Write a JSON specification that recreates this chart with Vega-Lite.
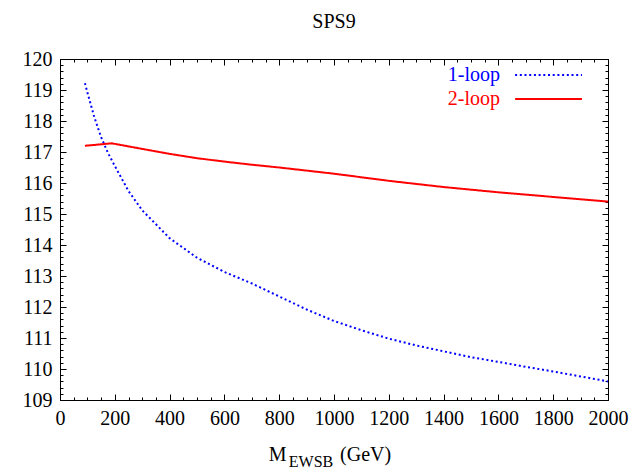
{
  "$schema": "https://vega.github.io/schema/vega-lite/v6.json",
  "width": 548,
  "height": 341,
  "autosize": {"type": "none"},
  "padding": {"left": 60, "top": 59, "right": 31, "bottom": 69},
  "background": "white",
  "title": {"text": "SPS9", "fontSize": 20, "font": "Liberation Serif", "fontWeight": "normal", "color": "black", "anchor": "middle", "offset": 17},
  "config": {
    "view": {"stroke": "black", "strokeWidth": 1},
    "font": "Liberation Serif",
    "axis": {"grid": false, "domainColor": "black", "tickColor": "black", "tickWidth": 1, "labelColor": "black", "labelFont": "Liberation Serif", "labelFontSize": 20, "labelFlush": false, "labelOverlap": false, "labelBound": false}
  },
  "datasets": {
    "curves": [
      {"M": 91, "mh": 119.22, "loop": "1-loop"},
      {"M": 100, "mh": 118.92, "loop": "1-loop"},
      {"M": 125, "mh": 118.13, "loop": "1-loop"},
      {"M": 150, "mh": 117.48, "loop": "1-loop"},
      {"M": 175, "mh": 116.97, "loop": "1-loop"},
      {"M": 200, "mh": 116.55, "loop": "1-loop"},
      {"M": 250, "mh": 115.74, "loop": "1-loop"},
      {"M": 300, "mh": 115.12, "loop": "1-loop"},
      {"M": 400, "mh": 114.22, "loop": "1-loop"},
      {"M": 500, "mh": 113.59, "loop": "1-loop"},
      {"M": 600, "mh": 113.13, "loop": "1-loop"},
      {"M": 700, "mh": 112.76, "loop": "1-loop"},
      {"M": 800, "mh": 112.34, "loop": "1-loop"},
      {"M": 900, "mh": 111.92, "loop": "1-loop"},
      {"M": 1000, "mh": 111.55, "loop": "1-loop"},
      {"M": 1100, "mh": 111.25, "loop": "1-loop"},
      {"M": 1200, "mh": 110.98, "loop": "1-loop"},
      {"M": 1300, "mh": 110.76, "loop": "1-loop"},
      {"M": 1400, "mh": 110.57, "loop": "1-loop"},
      {"M": 1500, "mh": 110.38, "loop": "1-loop"},
      {"M": 1600, "mh": 110.23, "loop": "1-loop"},
      {"M": 1700, "mh": 110.07, "loop": "1-loop"},
      {"M": 1800, "mh": 109.92, "loop": "1-loop"},
      {"M": 1900, "mh": 109.76, "loop": "1-loop"},
      {"M": 2000, "mh": 109.6, "loop": "1-loop"},
      {"M": 91, "mh": 117.2, "loop": "2-loop"},
      {"M": 189, "mh": 117.28, "loop": "2-loop"},
      {"M": 300, "mh": 117.1, "loop": "2-loop"},
      {"M": 400, "mh": 116.94, "loop": "2-loop"},
      {"M": 500, "mh": 116.8, "loop": "2-loop"},
      {"M": 600, "mh": 116.69, "loop": "2-loop"},
      {"M": 700, "mh": 116.59, "loop": "2-loop"},
      {"M": 800, "mh": 116.5, "loop": "2-loop"},
      {"M": 900, "mh": 116.4, "loop": "2-loop"},
      {"M": 1000, "mh": 116.3, "loop": "2-loop"},
      {"M": 1200, "mh": 116.07, "loop": "2-loop"},
      {"M": 1400, "mh": 115.87, "loop": "2-loop"},
      {"M": 1600, "mh": 115.7, "loop": "2-loop"},
      {"M": 1800, "mh": 115.55, "loop": "2-loop"},
      {"M": 2000, "mh": 115.4, "loop": "2-loop"}
    ]
  },
  "layer": [
    {
      "data": {"name": "curves"},
      "mark": {"type": "line", "strokeWidth": 2, "strokeCap": "butt"},
      "encoding": {
        "x": {"field": "M", "type": "quantitative", "scale": {"domain": [0, 2000], "nice": false, "zero": false},
          "axis": {"orient": "bottom", "title": null, "format": "d", "labelPadding": 14, "labelOverlap": false, "labelFlush": false, "tickSize": -6,
            "values": [0,200,400,600,800,1000,1200,1400,1600,1800,2000]}},
        "y": {"field": "mh", "type": "quantitative", "scale": {"domain": [109, 120], "nice": false, "zero": false},
          "axis": {"orient": "left", "title": null, "format": "d", "labelPadding": 14, "labelOverlap": false, "tickSize": -6,
            "values": [109,110,111,112,113,114,115,116,117,118,119,120]}},
        "color": {"field": "loop", "type": "nominal", "scale": {"domain": ["1-loop", "2-loop"], "range": ["#0000ff", "#ff0000"]}, "legend": null},
        "strokeDash": {"field": "loop", "type": "nominal", "scale": {"domain": ["1-loop", "2-loop"], "range": [[2, 2.7], [1, 0]]}, "legend": null}
      }
    },
    {
      "data": {"name": "curves"},
      "mark": {"type": "point", "opacity": 0},
      "encoding": {
        "x": {"field": "M", "type": "quantitative",
          "axis": {"orient": "top", "title": null, "labels": false,
            "values": [0,50,100,150,200,250,300,350,400,450,500,550,600,650,700,750,800,850,900,950,1000,1050,1100,1150,1200,1250,1300,1350,1400,1450,1500,1550,1600,1650,1700,1750,1800,1850,1900,1950,2000],
            "tickSize": {"condition": {"test": "datum.value % 200 === 0", "value": -6}, "value": -3}}},
        "y": {"field": "mh", "type": "quantitative",
          "axis": {"orient": "right", "title": null, "labels": false,
            "values": [109,109.2,109.4,109.6,109.8,110,110.2,110.4,110.6,110.8,111,111.2,111.4,111.6,111.8,112,112.2,112.4,112.6,112.8,113,113.2,113.4,113.6,113.8,114,114.2,114.4,114.6,114.8,115,115.2,115.4,115.6,115.8,116,116.2,116.4,116.6,116.8,117,117.2,117.4,117.6,117.8,118,118.2,118.4,118.6,118.8,119,119.2,119.4,119.6,119.8,120],
            "tickSize": {"condition": {"test": "abs(datum.value - round(datum.value)) < 0.01", "value": -6}, "value": -3}}}
      }
    },
    {
      "data": {"name": "curves"},
      "mark": {"type": "point", "opacity": 0},
      "encoding": {
        "x": {"field": "M", "type": "quantitative",
          "axis": {"orient": "bottom", "title": null, "labels": false, "domain": false, "tickSize": -3,
            "values": [50,100,150,250,300,350,450,500,550,650,700,750,850,900,950,1050,1100,1150,1250,1300,1350,1450,1500,1550,1650,1700,1750,1850,1900,1950]}},
        "y": {"field": "mh", "type": "quantitative",
          "axis": {"orient": "left", "title": null, "labels": false, "domain": false, "tickSize": -3,
            "values": [109.2,109.4,109.6,109.8,110.2,110.4,110.6,110.8,111.2,111.4,111.6,111.8,112.2,112.4,112.6,112.8,113.2,113.4,113.6,113.8,114.2,114.4,114.6,114.8,115.2,115.4,115.6,115.8,116.2,116.4,116.6,116.8,117.2,117.4,117.6,117.8,118.2,118.4,118.6,118.8,119.2,119.4,119.6,119.8]}}
      }
    },
    {
      "data": {"values": [{}]},
      "mark": {"type": "text", "text": "1-loop", "align": "right", "baseline": "middle", "fontSize": 20, "font": "Liberation Serif", "color": "#0000ff"},
      "encoding": {"x": {"datum": 1606, "type": "quantitative", "axis": null}, "y": {"datum": 119.48, "type": "quantitative", "axis": null}}
    },
    {
      "data": {"values": [{}]},
      "mark": {"type": "rule", "color": "#0000ff", "strokeWidth": 2, "strokeDash": [2, 2.7], "strokeCap": "butt"},
      "encoding": {"x": {"datum": 1661, "type": "quantitative", "axis": null}, "x2": {"datum": 1905}, "y": {"datum": 119.48, "type": "quantitative", "axis": null}}
    },
    {
      "data": {"values": [{}]},
      "mark": {"type": "text", "text": "2-loop", "align": "right", "baseline": "middle", "fontSize": 20, "font": "Liberation Serif", "color": "#ff0000"},
      "encoding": {"x": {"datum": 1606, "type": "quantitative", "axis": null}, "y": {"datum": 118.71, "type": "quantitative", "axis": null}}
    },
    {
      "data": {"values": [{}]},
      "mark": {"type": "rule", "color": "#ff0000", "strokeWidth": 2, "strokeCap": "butt"},
      "encoding": {"x": {"datum": 1661, "type": "quantitative", "axis": null}, "x2": {"datum": 1905}, "y": {"datum": 118.71, "type": "quantitative", "axis": null}}
    },
    {
      "data": {"values": [{}]},
      "mark": {"type": "text", "text": "M", "align": "left", "baseline": "alphabetic", "fontSize": 20, "font": "Liberation Serif", "color": "black"},
      "encoding": {"x": {"datum": 762, "type": "quantitative", "axis": null}, "y": {"datum": 107.03, "type": "quantitative", "axis": null}}
    },
    {
      "data": {"values": [{}]},
      "mark": {"type": "text", "text": "EWSB", "align": "left", "baseline": "alphabetic", "fontSize": 16, "font": "Liberation Serif", "color": "black"},
      "encoding": {"x": {"datum": 835, "type": "quantitative", "axis": null}, "y": {"datum": 106.84, "type": "quantitative", "axis": null}}
    },
    {
      "data": {"values": [{}]},
      "mark": {"type": "text", "text": "(GeV)", "align": "left", "baseline": "alphabetic", "fontSize": 20, "font": "Liberation Serif", "color": "black"},
      "encoding": {"x": {"datum": 1022, "type": "quantitative", "axis": null}, "y": {"datum": 107.03, "type": "quantitative", "axis": null}}
    }
  ],
  "resolve": {"axis": {"x": "independent", "y": "independent"}}
}
